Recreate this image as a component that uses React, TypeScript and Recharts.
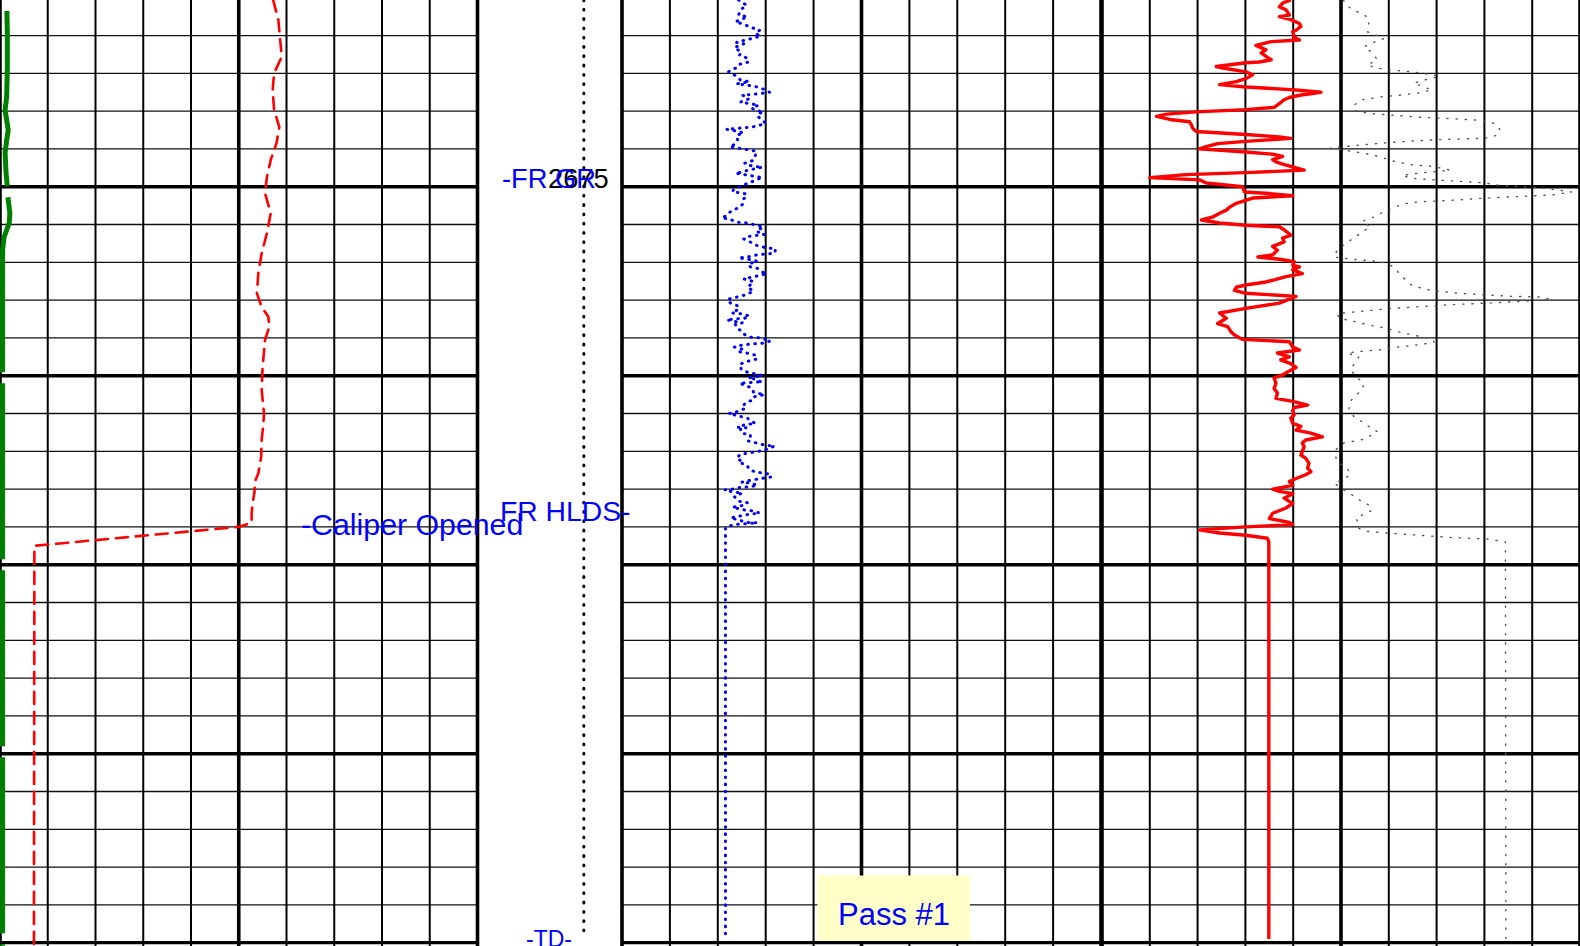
import React from 'react';
import { LineChart, Line, XAxis, YAxis, ReferenceLine } from 'recharts';

const W = 1580;
const H = 946;
const TOP = 2650.3;
const BASE = 2775.44;

type Pt = [number, number];

// Track 1: gamma ray (API, 0-150), green
const gr1: Pt[] = [
  [2650.3, 2.1], [2654.7, 2.3], [2659.2, 2.3], [2663.1, 2.1], [2664.85, 1.6], [2667.5, 2.6],
  [2668.8, 2.1], [2670.5, 1.6], [2673.2, 1.9], [2675.0, 2.3], [2676.75, 2.6], [2678.5, 3.1],
  [2679.8, 2.9], [2681.65, 1.3], [2683.4, 0.8], [2685.6, 0.8], [2775.4, 0.8],
];

// Track 1: caliper (in, 6-16), red dashed
const caliper: Pt[] = [
  [2650.3, 11.72], [2652.95, 11.83], [2657.8, 11.9], [2660.0, 11.74], [2662.2, 11.71], [2664.85, 11.74],
  [2667.1, 11.85], [2669.25, 11.79], [2671.45, 11.67], [2673.7, 11.59], [2675.85, 11.55], [2678.5, 11.67],
  [2681.15, 11.59], [2683.8, 11.48], [2686.45, 11.41], [2689.1, 11.38], [2690.9, 11.48], [2692.2, 11.62],
  [2693.5, 11.64], [2695.3, 11.55], [2698.8, 11.5], [2701.9, 11.48], [2705.0, 11.53], [2706.75, 11.51],
  [2708.5, 11.48], [2710.7, 11.47], [2712.9, 11.41], [2714.0, 11.34], [2715.35, 11.33], [2716.9, 11.29],
  [2718.2, 11.27], [2719.45, 11.27], [2720.0, 10.99], [2722.5, 6.72], [2775.4, 6.71],
];

// Depth track: cable tension marker (0-10)
const tension: Pt[] = [[2650.3, 7.35], [2774.5, 7.35]];

// Track 2: gamma ray (API, 0-150), blue dotted
const gr2: Pt[] = [
  [2650.3, 36.5], [2651.0, 39.0], [2651.6, 37.1], [2652.3, 36.5], [2652.5, 39.3], [2653.2, 35.5], [2653.5, 38.1],
  [2653.9, 40.2], [2654.3, 43.1], [2654.7, 41.8], [2655.1, 43.4], [2655.9, 35.9], [2656.1, 38.1], [2656.6, 35.2],
  [2657.2, 37.4], [2657.6, 36.8], [2658.0, 39.3], [2658.5, 39.6], [2658.8, 36.8], [2659.2, 36.2], [2659.6, 34.0],
  [2659.8, 33.4], [2660.4, 35.9], [2660.9, 37.1], [2661.1, 39.9], [2661.4, 35.9], [2661.7, 41.5], [2662.1, 44.3],
  [2662.5, 46.2], [2662.7, 43.1], [2662.9, 37.7], [2663.1, 39.0], [2663.4, 39.6], [2663.8, 37.1], [2664.2, 42.8],
  [2664.6, 40.6], [2664.9, 41.8], [2665.1, 44.3], [2665.4, 42.4], [2665.8, 42.8], [2666.6, 45.0], [2666.8, 43.7],
  [2667.1, 40.9], [2667.2, 38.1], [2667.4, 32.7], [2667.6, 35.5], [2667.9, 38.1], [2668.2, 35.9], [2668.8, 36.2],
  [2669.5, 34.9], [2669.7, 33.7], [2669.9, 36.5], [2670.1, 39.3], [2670.3, 42.1], [2670.8, 41.8], [2671.5, 41.2],
  [2671.9, 38.4], [2672.3, 40.9], [2672.4, 44.0], [2672.8, 39.6], [2673.1, 37.1], [2673.2, 35.5], [2673.8, 44.0],
  [2674.1, 41.8], [2674.5, 39.9], [2674.9, 37.1], [2675.4, 34.9], [2675.7, 34.6], [2675.8, 37.4], [2676.0, 39.0],
  [2676.4, 38.7], [2676.6, 38.1], [2677.2, 38.1], [2677.7, 36.8], [2678.2, 34.3], [2678.5, 33.4], [2678.9, 32.4],
  [2679.1, 31.2], [2679.3, 33.7], [2679.7, 36.2], [2679.8, 39.3], [2680.1, 42.1], [2680.3, 44.3], [2680.9, 42.1],
  [2681.3, 44.6], [2681.6, 39.3], [2681.9, 38.1], [2682.4, 40.6], [2682.8, 42.4], [2683.1, 45.3], [2683.2, 48.1],
  [2683.8, 47.8], [2683.9, 44.9], [2684.0, 42.4], [2684.3, 39.3], [2684.4, 36.5], [2684.7, 41.2], [2684.9, 42.4],
  [2685.2, 39.6], [2685.6, 40.2], [2685.8, 42.4], [2686.3, 44.0], [2686.5, 45.3], [2686.8, 42.4], [2687.2, 38.1],
  [2687.3, 39.6], [2687.6, 41.2], [2688.3, 39.3], [2688.8, 41.2], [2689.3, 38.7], [2689.6, 35.9], [2689.9, 33.0],
  [2690.4, 34.0], [2690.8, 36.5], [2691.3, 36.2], [2691.7, 34.3], [2691.8, 37.1], [2692.1, 39.9], [2692.4, 38.4],
  [2692.5, 35.5], [2692.6, 32.7], [2693.0, 37.7], [2693.2, 35.5], [2693.7, 35.9], [2694.0, 37.1], [2694.4, 37.7],
  [2694.9, 40.2], [2695.0, 43.4], [2695.4, 46.5], [2695.7, 44.0], [2695.8, 41.2], [2695.9, 38.1], [2696.2, 35.2],
  [2696.5, 37.7], [2696.8, 36.5], [2697.0, 39.0], [2697.3, 42.1], [2697.8, 42.1], [2698.1, 39.3], [2698.5, 36.8],
  [2698.8, 37.1], [2699.2, 37.4], [2699.6, 39.6], [2699.8, 42.4], [2700.0, 44.0], [2700.3, 39.6], [2700.4, 41.2],
  [2700.7, 42.4], [2700.8, 44.0], [2701.0, 36.8], [2701.2, 38.1], [2701.5, 39.9], [2701.8, 40.9], [2702.2, 41.2],
  [2702.4, 43.4], [2702.5, 44.6], [2702.8, 41.2], [2703.2, 40.9], [2703.6, 38.7], [2703.9, 38.1], [2704.3, 38.7],
  [2704.9, 35.2], [2705.0, 33.4], [2705.3, 36.2], [2705.5, 38.1], [2705.6, 39.3], [2705.9, 39.9], [2706.3, 41.8],
  [2706.5, 38.4], [2706.8, 36.2], [2706.9, 39.0], [2707.1, 37.1], [2707.6, 37.4], [2707.8, 40.2], [2708.1, 40.2],
  [2708.6, 39.3], [2708.9, 42.1], [2709.2, 44.9], [2709.3, 47.8], [2709.7, 45.6], [2710.0, 42.8], [2710.2, 39.9],
  [2710.4, 37.1], [2710.9, 35.9], [2711.4, 37.7], [2711.5, 37.1], [2711.9, 39.3], [2712.3, 39.6], [2712.7, 41.5],
  [2712.9, 44.3], [2713.0, 46.2], [2713.4, 46.8], [2713.5, 44.9], [2713.7, 42.1], [2713.9, 39.3], [2714.1, 37.4],
  [2714.2, 40.2], [2714.5, 42.4], [2714.7, 39.9], [2714.8, 36.8], [2715.0, 34.6], [2715.1, 32.1], [2715.4, 34.9],
  [2715.5, 37.7], [2716.0, 35.2], [2716.6, 36.5], [2716.8, 39.3], [2717.2, 37.4], [2717.4, 34.6], [2717.8, 38.7],
  [2717.9, 41.5], [2718.2, 43.1], [2718.3, 40.2], [2718.8, 34.0], [2719.1, 36.5], [2719.4, 39.3], [2719.45, 42.4],
  [2719.5, 40.9], [2719.6, 37.7], [2719.7, 34.9], [2720.1, 32.4], [2774.5, 32.4],
];

// Track 3: HLDS curve (0-100), red solid
const hlds: Pt[] = [
  [2650.3, 39.5], [2650.7, 37.8], [2651.2, 37.1], [2651.6, 38.5], [2652.3, 39.2], [2652.5, 37.1], [2652.9, 39.5],
  [2653.4, 41.3], [2653.8, 41.6], [2654.3, 40.6], [2654.5, 39.9], [2655.2, 40.2], [2655.6, 41.3], [2655.8, 35.4],
  [2656.3, 32.2], [2656.9, 34.3], [2657.3, 33.3], [2657.9, 34.6], [2658.2, 35.4], [2658.5, 32.9], [2658.6, 30.1],
  [2659.1, 23.9], [2659.3, 25.3], [2659.8, 30.1], [2660.2, 31.5], [2660.7, 30.1], [2661.1, 28.1], [2661.5, 24.6],
  [2661.8, 30.1], [2662.2, 40.6], [2662.5, 45.8], [2662.9, 41.3], [2663.2, 39.2], [2663.5, 38.1], [2664.0, 37.1],
  [2664.5, 36.0], [2664.8, 30.1], [2665.1, 19.7], [2665.4, 13.5], [2665.7, 11.4], [2666.1, 14.2], [2666.4, 18.3],
  [2666.8, 18.7], [2667.3, 19.0], [2667.7, 19.7], [2668.1, 30.1], [2668.4, 37.1], [2668.6, 39.5], [2669.0, 30.1],
  [2669.3, 24.2], [2669.7, 21.8], [2670.0, 20.4], [2670.4, 30.1], [2670.7, 35.7], [2671.0, 37.8], [2671.4, 35.7],
  [2671.7, 36.4], [2672.0, 37.8], [2672.3, 39.5], [2672.8, 42.3], [2673.1, 31.5], [2673.4, 17.6], [2673.8, 10.0],
  [2674.1, 20.4], [2674.5, 21.8], [2675.0, 29.4], [2675.7, 29.8], [2675.9, 35.0], [2676.2, 39.9], [2676.5, 31.5],
  [2677.2, 28.1], [2677.7, 26.7], [2678.1, 26.0], [2678.5, 24.6], [2679.0, 23.2], [2679.4, 20.8], [2679.8, 24.6],
  [2680.1, 30.1], [2680.3, 37.1], [2680.7, 38.1], [2681.4, 39.5], [2681.8, 37.8], [2682.3, 38.1], [2682.9, 35.7],
  [2683.4, 36.7], [2684.0, 35.7], [2684.3, 32.6], [2684.6, 37.1], [2684.9, 40.2], [2685.4, 39.9], [2685.6, 41.3],
  [2686.0, 39.9], [2686.5, 41.9], [2686.9, 38.5], [2687.6, 34.3], [2688.0, 30.1], [2688.3, 28.1], [2688.7, 27.7],
  [2689.1, 30.1], [2689.5, 40.6], [2690.4, 37.1], [2691.1, 30.1], [2691.7, 24.6], [2692.4, 26.0], [2693.1, 24.2],
  [2693.5, 26.3], [2694.2, 27.0], [2694.6, 27.7], [2695.2, 29.4], [2695.5, 39.2], [2696.2, 39.9], [2696.6, 41.3],
  [2697.0, 36.7], [2697.5, 39.2], [2697.9, 37.4], [2698.4, 39.5], [2698.9, 40.6], [2699.5, 38.8], [2699.9, 37.8],
  [2700.3, 36.0], [2701.0, 36.4], [2701.7, 36.0], [2702.3, 36.7], [2703.0, 36.4], [2703.4, 39.9], [2703.9, 43.0],
  [2704.2, 40.2], [2704.6, 39.9], [2705.2, 40.2], [2705.6, 39.5], [2706.3, 39.9], [2706.7, 41.6], [2707.2, 40.6],
  [2707.6, 43.7], [2708.1, 46.1], [2708.5, 42.6], [2708.9, 41.9], [2709.4, 42.3], [2710.0, 41.9], [2710.5, 41.6],
  [2710.9, 42.6], [2711.6, 43.3], [2712.2, 43.0], [2712.7, 43.7], [2713.1, 42.6], [2713.6, 40.6], [2714.0, 39.2],
  [2714.5, 39.9], [2715.0, 35.7], [2715.3, 37.1], [2715.6, 39.9], [2716.2, 38.1], [2716.9, 39.9], [2717.5, 38.5],
  [2718.2, 35.7], [2718.9, 35.0], [2719.4, 39.2], [2719.7, 39.9], [2720.0, 30.1], [2720.4, 20.4], [2720.8, 24.6],
  [2721.1, 30.1], [2721.5, 34.6], [2722.0, 34.9], [2774.5, 34.9],
];

// Track 3: second curve (0-100), grey dotted
const hlds2: Pt[] = [
  [2650.3, 50.5], [2650.9, 51.0], [2651.6, 52.4], [2652.1, 54.4], [2652.7, 55.8], [2653.6, 55.8], [2654.5, 55.5],
  [2654.9, 57.2], [2655.4, 59.0], [2656.0, 56.5], [2656.5, 54.8], [2657.1, 56.2], [2657.6, 56.9], [2658.2, 57.6],
  [2658.9, 55.5], [2659.3, 57.6], [2659.6, 61.0], [2659.8, 64.9], [2660.2, 69.0], [2660.4, 70.6], [2660.9, 67.3],
  [2661.3, 65.2], [2661.7, 66.9], [2662.2, 69.0], [2662.6, 66.25], [2662.9, 62.1], [2663.1, 58.6], [2663.5, 54.4],
  [2664.2, 52.7], [2664.9, 52.7], [2665.3, 55.8], [2665.5, 60.0], [2665.8, 66.25], [2666.0, 73.2], [2666.2, 78.75],
  [2666.5, 81.5], [2666.8, 82.6], [2667.5, 83.3], [2668.2, 82.6], [2668.6, 80.1], [2668.7, 73.2], [2668.9, 66.25],
  [2669.2, 59.3], [2669.5, 53.75], [2669.9, 47.8], [2670.2, 51.0], [2670.6, 55.1], [2671.0, 57.9], [2671.7, 61.4],
  [2672.1, 64.9], [2672.3, 69.0], [2672.8, 72.9], [2673.0, 69.7], [2673.2, 66.25], [2673.5, 62.8], [2673.9, 64.9],
  [2674.1, 69.7], [2674.3, 75.3], [2674.5, 80.1], [2674.8, 82.9], [2675.2, 92.6], [2675.5, 96.1], [2675.7, 98.2],
  [2676.1, 94.0], [2676.3, 87.1], [2676.5, 80.1], [2676.8, 73.2], [2677.0, 66.25], [2677.3, 62.8], [2677.9, 60.7],
  [2678.3, 59.0], [2679.0, 56.9], [2679.6, 54.4], [2680.3, 56.2], [2680.7, 55.1], [2681.6, 53.1], [2682.5, 51.0],
  [2683.4, 49.2], [2684.3, 48.5], [2684.6, 52.4], [2684.8, 56.5], [2685.1, 59.6], [2685.8, 61.4], [2686.7, 62.4],
  [2687.3, 63.5], [2688.1, 64.9], [2688.7, 68.7], [2689.1, 74.6], [2689.3, 80.1], [2689.5, 85.7], [2689.6, 91.9],
  [2689.9, 94.0], [2690.2, 87.1], [2690.6, 73.2], [2691.1, 60.7], [2691.5, 53.75], [2691.8, 49.2], [2692.4, 49.6],
  [2692.9, 53.4], [2693.3, 55.8], [2693.7, 59.3], [2694.2, 62.1], [2694.6, 64.9], [2695.0, 68.0], [2695.3, 69.4],
  [2695.6, 69.4], [2695.9, 66.25], [2696.2, 62.1], [2696.6, 57.9], [2696.8, 53.75], [2697.0, 51.3], [2697.5, 53.75],
  [2698.1, 53.1], [2699.2, 52.0], [2700.1, 53.1], [2701.0, 54.8], [2701.9, 54.4], [2702.8, 52.7], [2703.6, 51.7],
  [2704.5, 51.7], [2705.4, 52.7], [2706.1, 54.4], [2706.7, 55.8], [2707.4, 57.6], [2707.8, 56.5], [2708.4, 54.8],
  [2708.7, 52.4], [2708.9, 50.6], [2709.8, 48.9], [2710.7, 48.9], [2711.4, 49.2], [2712.2, 51.3], [2713.1, 52.0],
  [2713.8, 50.3], [2714.2, 48.5], [2715.1, 50.6], [2715.8, 52.4], [2716.4, 53.75], [2717.1, 55.8], [2717.8, 56.5],
  [2718.3, 54.8], [2718.9, 53.1], [2719.5, 53.75], [2720.2, 53.75], [2720.6, 55.5], [2720.8, 59.3], [2721.1, 66.25],
  [2721.4, 73.2], [2721.6, 80.8], [2722.0, 84.4], [2774.5, 84.5],
];

const minorDepths = [2655, 2660, 2665, 2670, 2680, 2685, 2690, 2695, 2705, 2710, 2715, 2720, 2730, 2735, 2740, 2745, 2755, 2760, 2765, 2770];
const majorDepths = [2650, 2675, 2700, 2725, 2750, 2775];

const rows = (pts: Pt[]) => pts.map(([depth, v]) => ({ depth, v }));

type Curve = {
  id: string;
  data: Pt[];
  domain: [number, number];
  stroke: string;
  width: number;
  dash?: string;
  offset?: number;
  cap?: 'round' | 'butt';
};

type TrackProps = {
  left: number;
  width: number;
  curves: Curve[];
  grid?: boolean;
};

const PAD = 4;

function Track({ left, width, curves, grid = true }: TrackProps) {
  const [lo, hi] = curves[0].domain;
  const step = (hi - lo) / 10;
  const first = curves[0].id;
  return (
    <div style={{ position: 'absolute', left: left - PAD, top: 0 }}>
      <LineChart
        layout="vertical"
        width={width + PAD * 2}
        height={H}
        margin={{ top: 0, right: PAD, bottom: 0, left: PAD }}
      >
        {curves.map((c) => (
          <XAxis key={c.id} xAxisId={c.id} type="number" domain={c.domain} allowDataOverflow hide />
        ))}
        {/* depth grows downward */}
        <YAxis type="number" dataKey="depth" domain={[TOP, BASE]} allowDataOverflow hide />
        {grid &&
          minorDepths.map((d) => (
            <ReferenceLine key={`m${d}`} xAxisId={first} y={d} stroke="#111" strokeWidth={1.3} />
          ))}
        {grid &&
          majorDepths.map((d) => (
            <ReferenceLine key={`M${d}`} xAxisId={first} y={d} stroke="#000" strokeWidth={3.4} />
          ))}
        {grid &&
          Array.from({ length: 11 }, (_, i) => (
            <ReferenceLine
              key={`v${i}`}
              xAxisId={first}
              x={lo + i * step}
              stroke="#000"
              strokeWidth={i % 5 === 0 ? 3.6 : 2}
            />
          ))}
        {curves.map((c) => (
          <Line
            key={c.id}
            xAxisId={c.id}
            data={rows(c.data)}
            dataKey="v"
            type="linear"
            stroke={c.stroke}
            strokeWidth={c.width}
            strokeDasharray={c.dash}
            strokeDashoffset={c.offset}
            strokeLinecap={c.cap ?? 'butt'}
            strokeLinejoin="round"
            dot={false}
            activeDot={false}
            isAnimationActive={false}
          />
        ))}
      </LineChart>
    </div>
  );
}

const font = '"Liberation Sans", Arial, Helvetica, sans-serif';

export default function App() {
  return (
    <div
      style={{
        position: 'absolute',
        left: 0,
        top: 0,
        width: W,
        height: H,
        overflow: 'hidden',
        background: '#fff',
      }}
    >
      <Track
        left={0}
        width={477.5}
        curves={[
          { id: 'cal', data: caliper, domain: [6, 16], stroke: '#ff0000', width: 2.6, dash: '12 8', cap: 'round' },
          { id: 'gr1', data: gr1, domain: [0, 150], stroke: '#008000', width: 5, dash: '176 11', offset: 176 },
        ]}
      />
      <Track
        left={477.5}
        width={144}
        grid={false}
        curves={[
          { id: 'ten', data: tension, domain: [0, 10], stroke: '#000', width: 3, dash: '0.8 8.5', cap: 'round' },
        ]}
      />
      <Track
        left={621.5}
        width={479}
        curves={[
          { id: 'gr2', data: gr2, domain: [0, 150], stroke: '#0000ff', width: 3, dash: '0.6 6.5', cap: 'round' },
        ]}
      />
      <Track
        left={1102}
        width={478}
        curves={[
          { id: 'hl', data: hlds, domain: [0, 100], stroke: '#ff0000', width: 3.4 },
          { id: 'hl2', data: hlds2, domain: [0, 100], stroke: '#555', width: 1.4, dash: '1.2 8', cap: 'round' },
        ]}
      />
      <svg
        width={W}
        height={H}
        style={{ position: 'absolute', left: 0, top: 0, pointerEvents: 'none' }}
        fontFamily={font}
      >
        <text x={548} y={188} fontSize={27.3} fill="#000">2675</text>
        <text x={502} y={188} fontSize={27.3} fill="#0000ff">-FR GR</text>
        <text x={500} y={521} fontSize={28.3} fill="#0000ff">FR HLDS-</text>
        <text x={301} y={535} fontSize={30.3} fill="#0000ff">-Caliper Opened</text>
        <text x={526} y={947} fontSize={23} fill="#0000ff">-TD-</text>
        <rect x={817.5} y={875.5} width={152.5} height={65.5} fill="#ffffc8" />
        <text x={838} y={925} fontSize={31} fill="#0000ff">Pass #1</text>
      </svg>
    </div>
  );
}
